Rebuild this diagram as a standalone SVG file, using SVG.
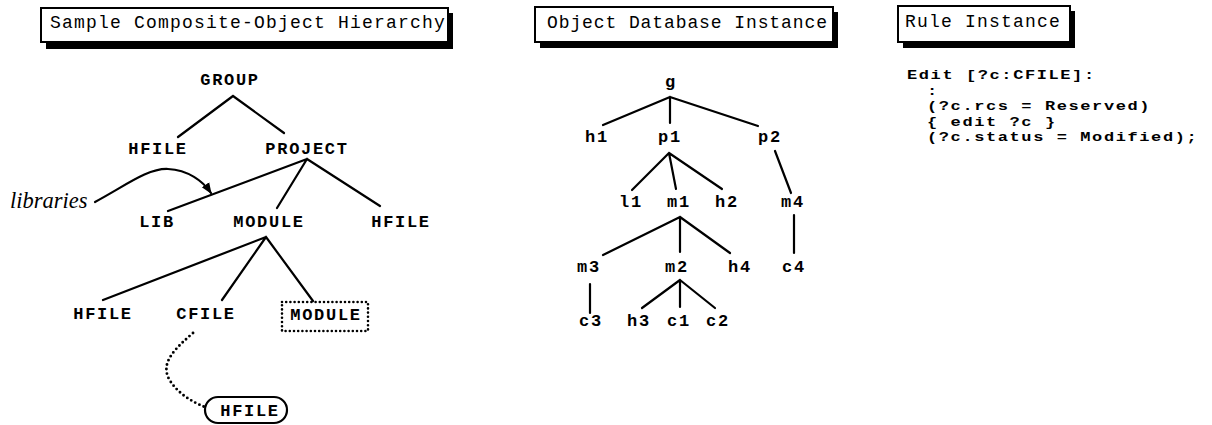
<svg xmlns="http://www.w3.org/2000/svg" width="1212" height="425" viewBox="0 0 1212 425">
<defs>
<style>
.t{font-family:"Liberation Mono","Courier New",monospace;font-size:18px;letter-spacing:1.2px;fill:#000}
.n{font-family:"Liberation Mono","Courier New",monospace;font-size:17px;letter-spacing:1.7px;font-weight:bold;fill:#000;text-anchor:middle}
.r{font-family:"Liberation Mono","Courier New",monospace;font-size:17px;letter-spacing:1.6px;font-weight:bold;fill:#000}
.box{fill:#fff;stroke:#000;stroke-width:2}
.sh{fill:#000}
.ln{stroke:#000;stroke-width:2.2;fill:none;stroke-linecap:round}
.dot{stroke:#000;stroke-width:2.9;fill:none;stroke-dasharray:0 4.6;stroke-linecap:round}
</style>
<marker id="ah" viewBox="0 0 10 10" refX="9" refY="5" markerWidth="5" markerHeight="5" orient="auto" markerUnits="strokeWidth">
<path d="M0,1 L10,5 L0,9 Z" fill="#000"/>
</marker>
</defs>
<rect width="1212" height="425" fill="#fff"/>

<g id="title1">
<rect class="sh" x="46" y="13" width="407" height="36"/>
<rect class="box" x="41" y="8" width="407" height="34"/>
<text class="t" x="50" y="28">Sample Composite-Object Hierarchy</text>
</g>
<g id="title2">
<rect class="sh" x="540" y="12" width="298" height="36"/>
<rect class="box" x="535" y="7" width="298" height="35"/>
<text class="t" x="547" y="28" style="letter-spacing:0.9px">Object Database Instance</text>
</g>
<g id="title3">
<rect class="sh" x="903" y="11" width="172" height="37"/>
<rect class="box" x="898" y="6" width="172" height="36"/>
<text class="t" x="905" y="27">Rule Instance</text>
</g>

<g id="connectors">
<path class="ln" d="M233,96 L178,137 M233,96 L284,133"/>
<path class="ln" d="M307,159 L168,211 M307,159 L277,208 M307,159 L380,206"/>
<path class="ln" d="M266,237 L103,300 M266,237 L222,300 M266,237 L313,301"/>
<path class="ln" d="M95,202 C125,186 148,168 168,169 C188,170 203,181 211,193" marker-end="url(#ah)"/>
<path class="dot" d="M193,333 C176,348 160,362 169,379 C177,393 192,402 205,407"/>
<path class="ln" d="M670,97 L603,125 M670,97 L670,123 M670,97 L758,126"/>
<path class="ln" d="M669,153 L632,190 M669,153 L676,189 M669,153 L722,189"/>
<path class="ln" d="M775,151 L791,193"/>
<path class="ln" d="M680,217 L603,255 M680,217 L680,252 M680,217 L730,253"/>
<path class="ln" d="M794,215 L794,253"/>
<path class="ln" d="M590,284 L590,313"/>
<path class="ln" d="M680,280 L642,308 M680,280 L680,307 M680,280 L715,308"/>
</g>

<g id="n-group"><text class="n" x="230" y="85">GROUP</text></g>
<g id="n-hfile1"><text class="n" x="158" y="154">HFILE</text></g>
<g id="n-project"><text class="n" x="307" y="154">PROJECT</text></g>
<g id="n-libraries"><text x="10" y="208" style="font-family:'Liberation Serif','Times New Roman',serif;font-style:italic;font-size:22.5px">libraries</text></g>
<g id="n-lib"><text class="n" x="157" y="227">LIB</text></g>
<g id="n-module1"><text class="n" x="269" y="227">MODULE</text></g>
<g id="n-hfile2"><text class="n" x="401" y="227">HFILE</text></g>
<g id="n-hfile3"><text class="n" x="103" y="319">HFILE</text></g>
<g id="n-cfile"><text class="n" x="206" y="319">CFILE</text></g>
<g id="n-module2">
<rect class="dot" x="282" y="302" width="86" height="29" style="stroke-width:2.6;stroke-dasharray:0 4.2"/>
<text class="n" x="326" y="320">MODULE</text>
</g>
<g id="n-hfile4">
<rect x="205" y="397" width="82" height="26" rx="13" fill="#fff" stroke="#000" stroke-width="2.2"/>
<text class="n" x="250" y="416">HFILE</text>
</g>

<g id="n-g"><text class="n" x="671" y="87">g</text></g>
<g id="n-h1"><text class="n" x="597" y="142">h1</text></g>
<g id="n-p1"><text class="n" x="670" y="142">p1</text></g>
<g id="n-p2"><text class="n" x="770" y="142">p2</text></g>
<g id="n-l1"><text class="n" x="631" y="207">l1</text></g>
<g id="n-m1"><text class="n" x="679" y="207">m1</text></g>
<g id="n-h2"><text class="n" x="727" y="207">h2</text></g>
<g id="n-m4"><text class="n" x="793" y="207">m4</text></g>
<g id="n-m3"><text class="n" x="589" y="272">m3</text></g>
<g id="n-m2"><text class="n" x="677" y="272">m2</text></g>
<g id="n-h4"><text class="n" x="740" y="272">h4</text></g>
<g id="n-c4"><text class="n" x="794" y="272">c4</text></g>
<g id="n-c3"><text class="n" x="591" y="326">c3</text></g>
<g id="n-h3"><text class="n" x="639" y="326">h3</text></g>
<g id="n-c1"><text class="n" x="679" y="326">c1</text></g>
<g id="n-c2"><text class="n" x="718" y="326">c2</text></g>

<g id="rule">
<text class="r" transform="translate(907,79) scale(1,0.78)">Edit [?c:CFILE]:</text>
<text class="r" transform="translate(927,94.5) scale(1,0.78)">:</text>
<text class="r" transform="translate(927,110) scale(1,0.78)">(?c.rcs = Reserved)</text>
<text class="r" transform="translate(927,125.5) scale(1,0.78)">{ edit ?c }</text>
<text class="r" transform="translate(927,141) scale(1,0.78)">(?c.status = Modified);</text>
</g>
</svg>
